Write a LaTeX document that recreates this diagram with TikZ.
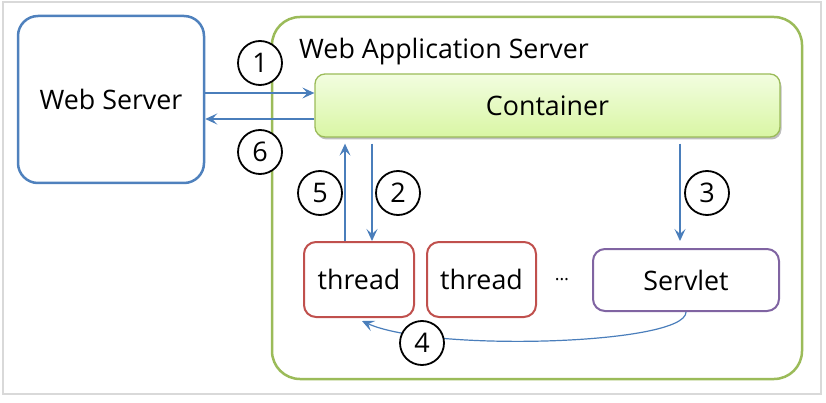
\documentclass[tikz,border=0pt]{standalone}
\usepackage{fontspec}
\setmainfont{Open Sans}
\usetikzlibrary{arrows.meta,shadows}
\definecolor{wsblue}{HTML}{4F81BD}
\definecolor{wasgreen}{HTML}{9BBB59}
\definecolor{thred}{HTML}{C0504D}
\definecolor{svpurple}{HTML}{8064A2}
\definecolor{arrblue}{HTML}{4A7EBB}
\definecolor{ctop}{HTML}{F2FDE0}
\definecolor{cbot}{HTML}{D9F6A4}
\definecolor{frame}{HTML}{D9D9D9}
\tikzset{
  txt/.style={font=\fontsize{26.8}{32}\selectfont, text=black},
  box/.style={draw, rounded corners=12pt, inner sep=0pt, txt},
  num/.style={circle, draw=black, line width=1.8pt, fill=white, minimum size=44pt, inner sep=0pt, font=\fontsize{27}{30}\selectfont},
  arr/.style={draw=arrblue, line width=1.2pt, -{Stealth[length=12pt,width=11pt,inset=5pt]}},
}
\begin{document}
\begin{tikzpicture}[x=1pt,y=-1pt]
\useasboundingbox (0,0) rectangle (826,403);
\draw[frame, line width=2pt] (3,2) rectangle (821,394);
% outer boxes
\node[box, draw=wsblue, line width=2.5pt, rounded corners=20pt, minimum width=186pt, minimum height=167pt] (ws) at (111,99.5) {Web Server};
\node[box, draw=wasgreen, line width=2.5pt, rounded corners=28pt, minimum width=530pt, minimum height=362pt] (was) at (537,198) {};
\node[txt, anchor=west, inner sep=0pt] (title) at (299,52) {Web Application Server};
% container
\node[box, draw=wasgreen, line width=1.3pt, rounded corners=10pt, top color=ctop, bottom color=cbot, minimum width=465pt, minimum height=63pt,
  drop shadow={shadow xshift=1.5pt, shadow yshift=-2.5pt, opacity=0.25, fill=black}] (cont) at (547.5,105.5) {Container};
% threads and servlet
\node[box, draw=thred, line width=2pt, minimum width=110pt, minimum height=75pt] (th1) at (359,279.5) {thread};
\node[box, draw=thred, line width=2pt, minimum width=109pt, minimum height=75pt] (th2) at (481.5,279.5) {thread};
\node[font=\fontsize{18}{20}\selectfont, inner sep=0pt] (dots) at (562,280) {…};
\node[box, draw=svpurple, line width=2pt, minimum width=186pt, minimum height=62pt] (sv) at (686,280) {Servlet};
% connectors
\draw[arr] (ws.east |- 0,93) -- (cont.west |- 0,93);
\draw[arr] (cont.west |- 0,119) -- (ws.east |- 0,119);
\draw[arr] (th1.north -| 345,0) -- ([yshift=-6pt]cont.south -| 345,0);
\draw[arr] ([yshift=-6pt]cont.south -| 372,0) -- (th1.north -| 372,0);
\draw[arr, shorten >=7pt] ([yshift=-6pt]cont.south -| 680,0) -- (sv.north -| 680,0);
\draw[arr] (sv.south) .. controls (686,345) and (430,352) .. ([xshift=3pt,yshift=-3pt]th1.south);
% numbers
\node[num] (n1) at (260,63) {1};
\node[num] (n6) at (260,152) {6};
\node[num] (n5) at (320,193) {5};
\node[num] (n2) at (398,193) {2};
\node[num] (n3) at (707,193) {3};
\node[num] (n4) at (422,343) {4};
\end{tikzpicture}
\end{document}
